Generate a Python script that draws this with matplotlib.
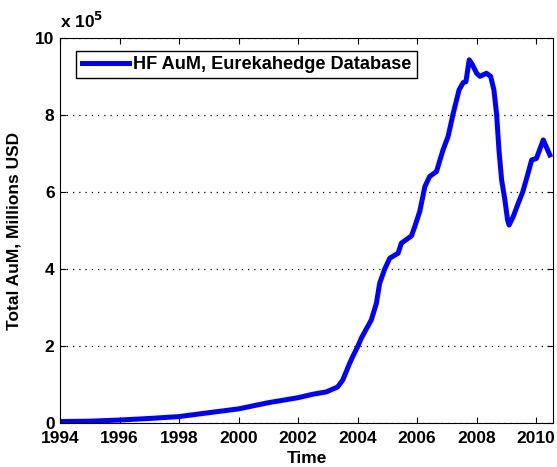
import matplotlib
matplotlib.use('Agg')
import matplotlib.pyplot as plt

# HF AuM, in units of 1e5 million USD
years = [1994.0, 1995.0, 1996.0, 1997.0, 1998.0, 1999.0, 2000.0, 2001.0, 2002.0,
         2002.5, 2002.95, 2003.33, 2003.5, 2003.73, 2003.85, 2004.01, 2004.12,
         2004.46, 2004.63, 2004.74, 2004.91, 2005.08, 2005.36, 2005.47, 2005.81,
         2005.92, 2006.09, 2006.26, 2006.42, 2006.65, 2006.87, 2007.04, 2007.21,
         2007.41, 2007.55, 2007.64, 2007.75, 2007.86, 2008.0, 2008.11, 2008.33,
         2008.47, 2008.58, 2008.67, 2008.75, 2008.84, 2008.95, 2009.04, 2009.09,
         2009.23, 2009.40, 2009.55, 2009.73, 2009.85, 2010.01, 2010.24, 2010.46]
aum = [0.04, 0.05, 0.08, 0.12, 0.17, 0.27, 0.37, 0.53, 0.66,
       0.75, 0.81, 0.94, 1.12, 1.55, 1.75, 2.0, 2.2,
       2.68, 3.11, 3.63, 4.0, 4.28, 4.41, 4.67, 4.86,
       5.1, 5.5, 6.14, 6.4, 6.53, 7.09, 7.44, 8.03,
       8.65, 8.84, 8.86, 9.43, 9.30, 9.08, 9.0, 9.08,
       9.0, 8.65, 8.03, 7.09, 6.31, 5.79, 5.27, 5.14,
       5.36, 5.71, 6.0, 6.49, 6.83, 6.87, 7.35, 6.96]

xticks = [1994, 1996, 1998, 2000, 2002, 2004, 2006, 2008, 2010]
yticks = [0, 2, 4, 6, 8, 10]

plt.rcParams['font.family'] = ['Liberation Sans', 'DejaVu Sans']
plt.rcParams['font.weight'] = 'bold'

fig = plt.figure(figsize=(5.57, 4.67), dpi=100)
ax = fig.add_axes([0.108, 0.094, 0.885, 0.825])

ax.plot(years, aum, color='#0000ff', lw=3.6, label='HF AuM, Eurekahedge Database')

ax.set_xlim(1994, 2010.57)
ax.set_ylim(0, 10)
ax.set_xticks(xticks)
ax.set_yticks(yticks)
ax.tick_params(direction='in', top=True, right=True, labelsize=12.5, length=4.5)
ax.tick_params(axis='x', pad=6)
ax.tick_params(axis='y', pad=4)
for lab in ax.get_xticklabels() + ax.get_yticklabels():
    lab.set_fontweight('bold')
ax.yaxis.grid(True, linestyle=(0, (1, 4)), color='black', lw=0.9)

ax.set_xlabel('Time', fontsize=12.5, fontweight='bold', labelpad=3)
ax.set_ylabel('Total AuM, Millions USD', fontsize=12.5, fontweight='bold', labelpad=10)
ax.text(0.0, 1.018, r'x 10$^{5}$', transform=ax.transAxes, fontsize=12.5,
        fontweight='bold', ha='left', va='bottom')

leg = ax.legend(loc='upper left', bbox_to_anchor=(0.0325, 0.967), borderaxespad=0,
                fontsize=13.1, fancybox=False, framealpha=1, edgecolor='black',
                handlelength=2.6, borderpad=0.3, handletextpad=0.25)
leg.get_frame().set_linewidth(1.0)
for t in leg.get_texts():
    t.set_fontweight('bold')

fig.savefig('out.png', dpi=100)
